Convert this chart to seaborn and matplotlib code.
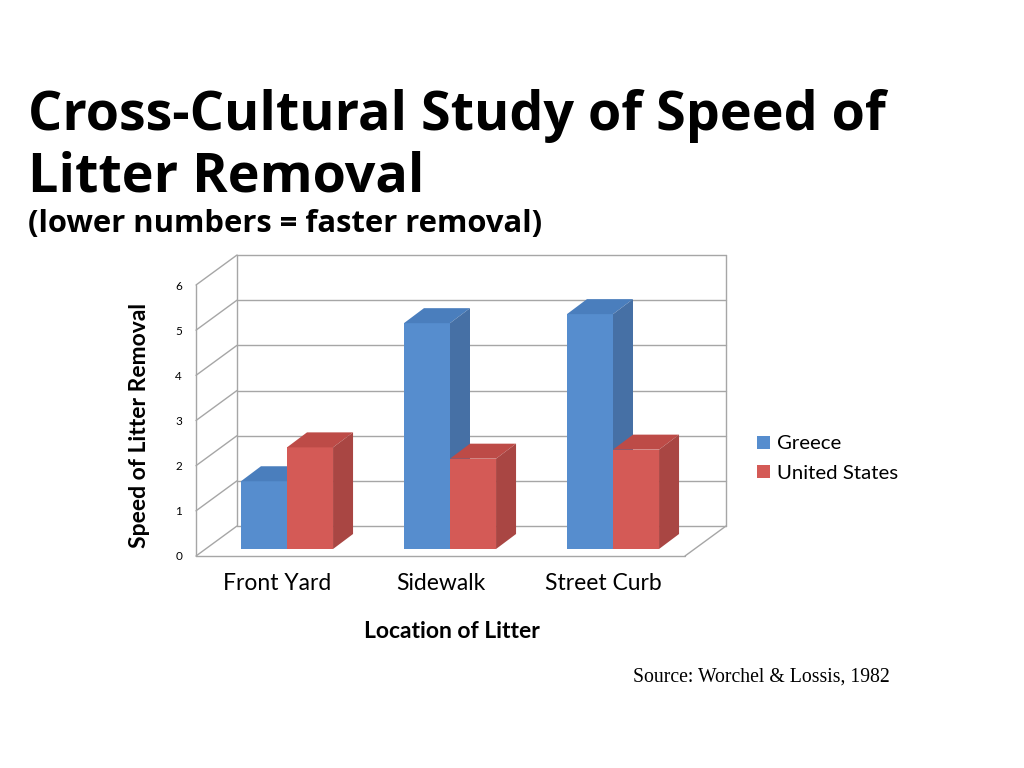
import numpy as np
import pandas as pd
import seaborn as sns
import matplotlib.pyplot as plt
from matplotlib.patches import Polygon

# data
locations = ["Front Yard", "Sidewalk", "Street Curb"]
countries = ["Greece", "United States"]
greece = [1.5, 5.0, 5.2]
united_states = [2.25, 2.0, 2.2]
y_ticks = [0, 1, 2, 3, 4, 5, 6]

df = pd.DataFrame({
    "location": locations * 2,
    "country": [countries[0]] * 3 + [countries[1]] * 3,
    "speed": greece + united_states,
})

front_cols = {"Greece": "#568DCE", "United States": "#D45A56"}
top_cols = {"Greece": "#4A7EBD", "United States": "#BD4B47"}
side_cols = {"Greece": "#4670A5", "United States": "#A94643"}
grid_col = "#A6A6A6"

sns.set_style("white")
plt.rcParams['font.family'] = ['Lato', 'DejaVu Sans']
plt.rcParams['text.color'] = 'black'
plt.rcParams['axes.labelcolor'] = 'black'
plt.rcParams['xtick.color'] = 'black'
plt.rcParams['ytick.color'] = 'black'

W, H = 1024, 768
fig = plt.figure(figsize=(W / 100, H / 100), dpi=100)

# front plane of the 3d box (pixel coords of reference)
fx0, fy0 = 196, 556          # left / bottom of front plane
pw, ph = 489, 271            # width / height in px
px_x = pw / 3.0
px_y = ph / 6.0
depth = (41, 30)             # front -> back wall
bar_off = (9.5, 7)           # front -> bar front faces
bar_depth = (20, 15)         # bar thickness

ax = fig.add_axes([fx0 / W, (H - fy0) / H, pw / W, ph / H])
ax.set_xlim(-0.5, 2.5)
ax.set_ylim(0, 6)
ax.patch.set_alpha(0)
sns.despine(ax=ax, left=True, bottom=True)

bx = (fx0 + bar_off[0]) / W
by = (H - fy0 + bar_off[1]) / H
axb = fig.add_axes([bx, by, pw / W, ph / H])
axb.patch.set_alpha(0)

# walls, drawn in front-plane data units
dx, dy = depth[0] / px_x, depth[1] / px_y
lw = 1.0
for t in y_ticks:
    ax.plot([-0.5 + dx, 2.5 + dx], [t + dy, t + dy], color=grid_col, lw=lw, clip_on=False)
    ax.plot([-0.5, -0.5 + dx], [t, t + dy], color=grid_col, lw=lw, clip_on=False)
ax.plot([-0.5, -0.5], [0, 6], color=grid_col, lw=lw, clip_on=False)
ax.plot([-0.5 + dx, -0.5 + dx], [dy, 6 + dy], color=grid_col, lw=lw, clip_on=False)
ax.plot([2.5 + dx, 2.5 + dx], [dy, 6 + dy], color=grid_col, lw=lw, clip_on=False)
ax.plot([-0.5, 2.5], [0, 0], color=grid_col, lw=lw, clip_on=False)
ax.plot([2.5, 2.5 + dx], [0, dy], color=grid_col, lw=lw, clip_on=False)

ax.set_yticks(y_ticks)
ax.set_yticklabels([str(t) for t in y_ticks], fontsize=8.5)
ax.set_xticks(range(len(locations)))
ax.set_xticklabels(locations, fontsize=16.5)
ax.tick_params(axis="y", length=0, pad=10)
ax.tick_params(axis="x", length=0, pad=12)
ax.set_ylabel("Speed of Litter Removal", fontsize=16.5, fontweight="bold")
ax.yaxis.set_label_coords(-0.094, 0.48)
ax.set_xlabel("Location of Litter", fontsize=16.5, fontweight="bold")
ax.xaxis.set_label_coords(0.523, -0.24)

# bars
sns.barplot(data=df, x="location", y="speed", hue="country", order=locations,
            hue_order=countries, palette=front_cols, width=0.565, saturation=1,
            edgecolor="none", linewidth=0, ax=axb, legend=True)
axb.set_xlim(-0.5, 2.5)
axb.set_ylim(0, 6)
axb.axis("off")

ddx, ddy = bar_depth[0] / px_x, bar_depth[1] / px_y
bars = [p for p in axb.patches if p.get_height() > 0]
labels = []
for i, c in enumerate(countries):
    labels += [c] * len(locations)
order = np.argsort([p.get_x() for p in bars])
for z, k in enumerate(order):
    p = bars[k]
    c = labels[k]
    x0, w, h = p.get_x(), p.get_width(), p.get_height()
    zo = 3 + z * 0.1
    p.set_zorder(zo)
    top = Polygon([(x0, h), (x0 + w, h), (x0 + w + ddx, h + ddy), (x0 + ddx, h + ddy)],
                  closed=True, facecolor=top_cols[c], edgecolor="none", zorder=zo, clip_on=False)
    side = Polygon([(x0 + w, 0), (x0 + w + ddx, ddy), (x0 + w + ddx, h + ddy), (x0 + w, h)],
                   closed=True, facecolor=side_cols[c], edgecolor="none", zorder=zo, clip_on=False)
    axb.add_patch(top)
    axb.add_patch(side)

leg = axb.get_legend()
handles = leg.legend_handles
leg.remove()
fig.legend(handles, countries, loc="upper left", bbox_to_anchor=(739 / W, 1 - 417 / H),
           frameon=False, fontsize=14.7, handlelength=0.6, handleheight=0.6,
           handletextpad=0.35, labelspacing=0.6)

# titles
fig.text(28 / W, 1 - 130 / H, "Cross-Cultural Study of Speed of", fontsize=38.8,
         fontweight="bold", family="Open Sans", va="baseline")
fig.text(28 / W, 1 - 192 / H, "Litter Removal", fontsize=38.8,
         fontweight="bold", family="Open Sans", va="baseline")
fig.text(28 / W, 1 - 232 / H, "(lower numbers = faster removal)", fontsize=22.3,
         fontweight="bold", family="Open Sans", va="baseline")
fig.text(633 / W, 1 - 682 / H, "Source: Worchel & Lossis, 1982", fontsize=14.2,
         family="Liberation Serif", va="baseline")

fig.savefig("out.png", dpi=100)
